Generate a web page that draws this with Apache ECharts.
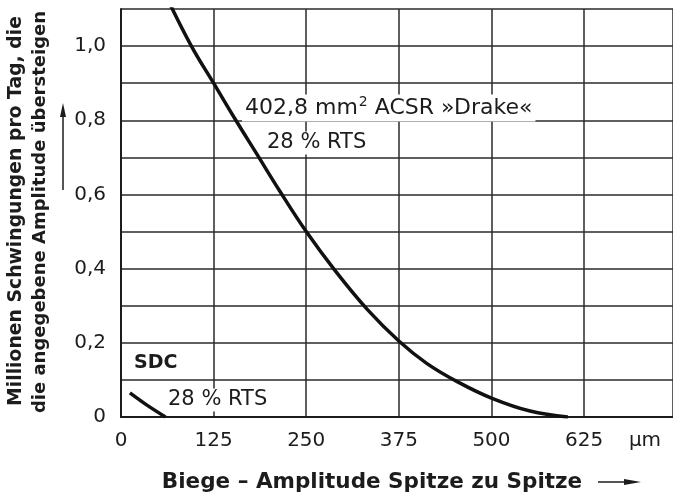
<!DOCTYPE html>
<html>
<head>
<meta charset="utf-8">
<script src="https://cdn.jsdelivr.net/npm/echarts@6/dist/echarts.min.js"></script>
<style>
  html, body { margin: 0; padding: 0; background: #fff; }
  #chart { width: 673px; height: 497px; }
</style>
</head>
<body>
<div id="chart"></div>
<script>
// Biege-Amplitude (µm) und Millionen Schwingungen pro Tag
var drakeX = [62, 95, 125, 155, 183, 214, 250, 290, 332, 375, 413, 455, 500, 552, 603];
var drakeY = [1.13, 1.0, 0.9, 0.8, 0.71, 0.61, 0.5, 0.392, 0.291, 0.205, 0.144, 0.094, 0.051, 0.016, 0];
var sdcX = [12, 35, 60];
var sdcY = [0.065, 0.032, 0];
var xTicks = [0, 125, 250, 375, 500, 625];
var yTicks = [0, 0.2, 0.4, 0.6, 0.8, 1.0];
var yTickLabels = ['0', '0,2', '0,4', '0,6', '0,8', '1,0'];

var FONT = 'DejaVu Sans';
var INK = '#1c1c1c';

function pairs(xs, ys) {
  return xs.map(function (x, i) { return [x, ys[i]]; });
}

var chart = echarts.init(document.getElementById('chart'));

var option = {
  animation: false,
  backgroundColor: '#fff',
  grid: { left: 121, top: 9, right: 0, bottom: 80 },
  xAxis: {
    type: 'value',
    min: 0,
    max: 745,
    interval: 125,
    axisLine: { show: true, lineStyle: { color: INK, width: 2 } },
    axisTick: { show: false },
    splitLine: { show: true, lineStyle: { color: '#2a2a2a', width: 1.5 } },
    axisLabel: {
      margin: 14,
      fontFamily: FONT,
      fontSize: 20,
      color: INK,
      showMaxLabel: false,
      formatter: function (v) {
        return xTicks.indexOf(v) >= 0 ? String(v) : '';
      }
    }
  },
  yAxis: {
    type: 'value',
    min: 0,
    max: 1.1,
    interval: 0.1,
    axisLine: { show: true, lineStyle: { color: INK, width: 2 } },
    axisTick: { show: false },
    splitLine: { show: true, lineStyle: { color: '#2a2a2a', width: 1.5 } },
    axisLabel: {
      margin: 15,
      fontFamily: FONT,
      fontSize: 20,
      color: INK,
      formatter: function (v) {
        for (var i = 0; i < yTicks.length; i++) {
          if (Math.abs(yTicks[i] - v) < 1e-6) return yTickLabels[i];
        }
        return '';
      }
    }
  },
  series: [
    {
      name: 'Drake',
      type: 'line',
      data: pairs(drakeX, drakeY),
      smooth: 0.4,
      showSymbol: false,
      clip: true,
      lineStyle: { color: '#111', width: 3.5 }
    },
    {
      name: 'SDC',
      type: 'line',
      data: pairs(sdcX, sdcY),
      smooth: 0.3,
      showSymbol: false,
      lineStyle: { color: '#111', width: 3.5 }
    }
  ],
  graphic: [
    // Beschriftungen im Diagramm
    {
      type: 'text', x: 242, y: 108, z: 100,
      style: {
        text: '402,8 mm{s|2} ACSR »Drake«',
        fontFamily: FONT, fontSize: 22, fill: INK,
        verticalAlign: 'middle', backgroundColor: '#fff', padding: [1, 3],
        rich: { s: { fontSize: 14, verticalAlign: 'top', padding: [0, 0, 11, 1], fill: INK, fontFamily: FONT } }
      }
    },
    {
      type: 'text', x: 264, y: 143, z: 100,
      style: { text: '28 % RTS', fontFamily: FONT, fontSize: 21, fill: INK,
        verticalAlign: 'middle', backgroundColor: '#fff', padding: [1, 3] }
    },
    {
      type: 'text', x: 134, y: 363, z: 100,
      style: { text: 'SDC', fontFamily: FONT, fontSize: 19, fontWeight: 'bold', fill: INK,
        verticalAlign: 'middle' }
    },
    {
      type: 'text', x: 165, y: 400, z: 100,
      style: { text: '28 % RTS', fontFamily: FONT, fontSize: 21, fill: INK,
        verticalAlign: 'middle', backgroundColor: '#fff', padding: [1, 3] }
    },
    {
      type: 'text', x: 645, y: 441,
      style: { text: 'µm', fontFamily: FONT, fontSize: 20, fill: INK,
        align: 'center', verticalAlign: 'middle' }
    },
    // x-Achsentitel mit Pfeil
    {
      type: 'text', x: 372, y: 482,
      style: { text: 'Biege – Amplitude Spitze zu Spitze', fontFamily: FONT, fontSize: 21.5,
        fontWeight: 'bold', fill: INK, align: 'center', verticalAlign: 'middle' }
    },
    {
      type: 'line', shape: { x1: 598, y1: 482, x2: 628, y2: 482 },
      style: { stroke: INK, lineWidth: 1.5 }
    },
    {
      type: 'polygon', shape: { points: [[624, 479], [641, 482], [624, 485]] },
      style: { fill: INK }
    },
    // y-Achsentitel (zweizeilig, gedreht) mit Pfeil
    {
      type: 'text', x: 16, y: 211, rotation: Math.PI / 2,
      style: { text: 'Millionen Schwingungen pro Tag, die', fontFamily: FONT, fontSize: 18.8,
        fontWeight: 'bold', fill: INK, align: 'center', verticalAlign: 'middle' }
    },
    {
      type: 'text', x: 40, y: 212, rotation: Math.PI / 2,
      style: { text: 'die angegebene Amplitude übersteigen', fontFamily: FONT, fontSize: 18,
        fontWeight: 'bold', fill: INK, align: 'center', verticalAlign: 'middle' }
    },
    {
      type: 'line', shape: { x1: 63, y1: 190, x2: 63, y2: 114 },
      style: { stroke: INK, lineWidth: 1.5 }
    },
    {
      type: 'polygon', shape: { points: [[60, 117], [63, 103], [66, 117]] },
      style: { fill: INK }
    }
  ]
};

chart.setOption(option);
</script>
</body>
</html>
